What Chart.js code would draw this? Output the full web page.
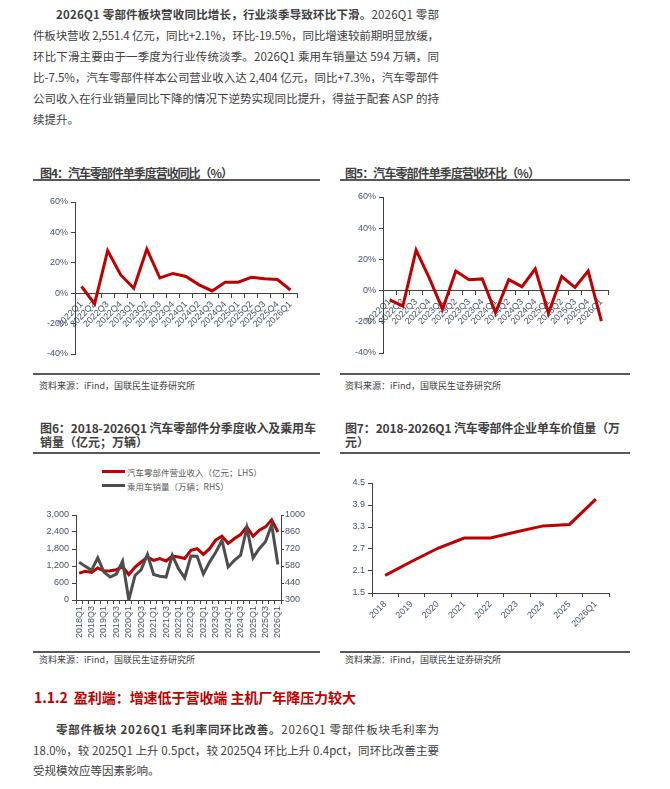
<!DOCTYPE html>
<html>
<head>
<meta charset="utf-8">
<script src="https://cdn.jsdelivr.net/npm/chart.js@4.4.1/dist/chart.umd.min.js"></script>
<style>
  html, body { margin: 0; padding: 0; background: #fff; }
  body { width: 670px; height: 789px; position: relative; overflow: hidden;
         font-family: "Noto Sans CJK SC", sans-serif; color: #404040; }
  .ln { position: absolute; white-space: nowrap; line-height: 20px; font-size: 11.5px; }
  .tt { position: absolute; white-space: nowrap; line-height: 16px; font-size: 12px; font-weight: bold; color: #404040; }
  .rule { position: absolute; height: 2px; background: #595959; }
  .src { position: absolute; white-space: nowrap; line-height: 14px; font-size: 9px; color: #404040; }
  .lg { position: absolute; white-space: nowrap; line-height: 14px; font-size: 8.5px; color: #595959; }
  .lg i { position: absolute; left: -25px; top: 5px; width: 23px; height: 3px; }
  canvas { position: absolute; }
  h3 { position: absolute; margin: 0; white-space: nowrap; line-height: 20px; font-size: 14px; color: #c00000; }
</style>
</head>
<body>

<div class="ln" style="left:56px;top:4px" data-w="383"><b>2026Q1 零部件板块营收同比增长，行业淡季导致环比下滑。</b>2026Q1 零部</div>
<div class="ln" style="left:33px;top:25px" data-w="406">件板块营收 2,551.4 亿元，同比+2.1%，环比-19.5%，同比增速较前期明显放缓，</div>
<div class="ln" style="left:33px;top:46px" data-w="406">环比下滑主要由于一季度为行业传统淡季。2026Q1 乘用车销量达 594 万辆，同</div>
<div class="ln" style="left:33px;top:67px" data-w="406">比-7.5%，汽车零部件样本公司营业收入达 2,404 亿元，同比+7.3%，汽车零部件</div>
<div class="ln" style="left:33px;top:88px" data-w="406">公司收入在行业销量同比下降的情况下逆势实现同比提升，得益于配套 ASP 的持</div>
<div class="ln" style="left:33px;top:109px">续提升。</div>

<div class="tt" style="left:40px;top:165px" data-w="193">图4：汽车零部件单季度营收同比（%）</div>
<div class="rule" style="left:33px;top:179px;width:287px"></div>
<div class="tt" style="left:345px;top:165px" data-w="195">图5：汽车零部件单季度营收环比（%）</div>
<div class="rule" style="left:340px;top:179px;width:290px"></div>

<canvas id="yoy" width="290" height="175" style="left:33px;top:190px"></canvas>
<canvas id="qoq" width="290" height="180" style="left:340px;top:185px"></canvas>

<div class="rule" style="left:33px;top:373px;width:287px"></div>
<div class="src" style="left:39px;top:379px">资料来源：iFind，国联民生证券研究所</div>
<div class="rule" style="left:340px;top:373px;width:290px"></div>
<div class="src" style="left:345px;top:379px">资料来源：iFind，国联民生证券研究所</div>

<div class="tt" style="left:40px;top:420px" data-w="276">图6：2018-2026Q1 汽车零部件分季度收入及乘用车</div>
<div class="tt" style="left:40px;top:434px">销量（亿元；万辆）</div>
<div class="rule" style="left:33px;top:452px;width:287px"></div>
<div class="tt" style="left:345px;top:420px" data-w="275">图7：2018-2026Q1 汽车零部件企业单车价值量（万</div>
<div class="tt" style="left:345px;top:434px">元）</div>
<div class="rule" style="left:340px;top:452px;width:290px"></div>

<div id="legend6"></div>
<canvas id="rev" width="284" height="140" style="left:33px;top:500px"></canvas>
<canvas id="asp" width="290" height="163" style="left:335px;top:470px"></canvas>

<div class="rule" style="left:33px;top:651px;width:287px"></div>
<div class="src" style="left:39px;top:653px">资料来源：iFind，国联民生证券研究所</div>
<div class="rule" style="left:340px;top:651px;width:290px"></div>
<div class="src" style="left:345px;top:653px">资料来源：iFind，国联民生证券研究所</div>

<h3 style="left:34px;top:687px" data-w="322">1.1.2&nbsp;&nbsp;盈利端：增速低于营收端 主机厂年降压力较大</h3>

<div class="ln" style="left:56px;top:719px" data-w="383"><b>零部件板块 2026Q1 毛利率同环比改善。</b>2026Q1 零部件板块毛利率为</div>
<div class="ln" style="left:33px;top:739.5px" data-w="406">18.0%，较 2025Q1 上升 0.5pct，较 2025Q4 环比上升 0.4pct，同环比改善主要</div>
<div class="ln" style="left:33px;top:760px">受规模效应等因素影响。</div>

<script>
//------------------------------------------------------------------------------
// data
//------------------------------------------------------------------------------
var quarters22 = ['2022Q1','2022Q2','2022Q3','2022Q4','2023Q1','2023Q2','2023Q3','2023Q4',
                  '2024Q1','2024Q2','2024Q3','2024Q4','2025Q1','2025Q2','2025Q3','2025Q4','2026Q1'];
var revYoy = [4.4, -7, 28, 12, 3.3, 29, 10, 13, 11, 5.5, 1.5, 7.2, 7.2, 10.5, 9.5, 9, 2.1];
var revQoq = [-6, -10, 26, 8, -12, 12.5, 7, 7.5, -14, 7, 2.5, 14, -14.5, 9, 2, 12.5, -19.5];

var quarters18 = ['2018Q1','2018Q2','2018Q3','2018Q4','2019Q1','2019Q2','2019Q3','2019Q4',
                  '2020Q1','2020Q2','2020Q3','2020Q4','2021Q1','2021Q2','2021Q3','2021Q4',
                  '2022Q1','2022Q2','2022Q3','2022Q4','2023Q1','2023Q2','2023Q3','2023Q4',
                  '2024Q1','2024Q2','2024Q3','2024Q4','2025Q1','2025Q2','2025Q3','2025Q4','2026Q1'];
var partsRevenue = [950, 1010, 975, 1130, 1020, 1035, 1070, 1180, 900, 1160, 1340, 1515, 1400, 1460, 1375, 1550,
                    1520, 1465, 1755, 1810, 1610, 1810, 2120, 2250, 2000, 2170, 2310, 2580, 2250, 2460, 2580, 2830, 2400];
var carSales = [612, 577, 544, 648, 530, 489, 514, 620, 302, 502, 550, 675, 510, 496, 489, 668,
                558, 482, 662, 660, 514, 612, 693, 790, 572, 627, 670, 895, 647, 723, 780, 920, 592];
var revLabel = '汽车零部件营业收入（亿元；LHS）';
var salesLabel = '乘用车销量（万辆；RHS）';

var years = ['2018','2019','2020','2021','2022','2023','2024','2025','2026Q1'];
var valuePerCar = [1.98, 2.36, 2.72, 3.0, 3.0, 3.17, 3.33, 3.37, 4.06];

//------------------------------------------------------------------------------
// styles
//------------------------------------------------------------------------------
var RED = '#c00000';
var GREY = '#4d4d4d';
var AXIS = '#404040';
var TICK = '#44546a';
var FONT = '"Liberation Sans", "Noto Sans CJK SC", sans-serif';

Chart.defaults.font.family = FONT;
Chart.defaults.font.size = 9;
Chart.defaults.animation = false;
Chart.defaults.plugins.legend.display = false;
Chart.defaults.plugins.tooltip.enabled = false;

function xAxis(rot, extra) {
  var s = {
    offset: true,
    grid: { drawOnChartArea: false, offset: true, tickLength: 4, color: AXIS },
    border: { color: AXIS },
    ticks: { autoSkip: false, minRotation: rot, maxRotation: rot, color: TICK, padding: 2 }
  };
  for (var k in extra) s[k] = extra[k];
  return s;
}

function yAxis(min, max, step, width, fmt, pos) {
  return {
    position: pos || 'left',
    min: min, max: max,
    grid: { drawOnChartArea: false, tickLength: 4, color: AXIS },
    border: { color: AXIS },
    ticks: { stepSize: step, color: TICK, padding: 3, callback: fmt },
    afterFit: function(a) { a.width = width; }
  };
}

function pct(v) { return v + '%'; }

window.onload = function() {
//------------------------------------------------------------------------------
// chart 4 : yoy
//------------------------------------------------------------------------------
  new Chart(document.getElementById('yoy'), {
    type: 'line',
    data: {
      labels: quarters22,
      datasets: [{ data: revYoy, borderColor: RED, borderWidth: 3, pointRadius: 0, tension: 0 }]
    },
    options: {
      responsive: false,
      layout: { padding: { top: 12, right: 26, bottom: 11, left: 0 } },
      scales: {
        x: xAxis(45, { position: { y: 0 }, afterFit: function(a) { a.height = 0; } }),
        y: yAxis(-40, 60, 20, 42, pct)
      }
    }
  });
//------------------------------------------------------------------------------
// chart 5 : qoq
//------------------------------------------------------------------------------
  new Chart(document.getElementById('qoq'), {
    type: 'line',
    data: {
      labels: quarters22,
      datasets: [{ data: revQoq, borderColor: RED, borderWidth: 3, pointRadius: 0, tension: 0 }]
    },
    options: {
      responsive: false,
      layout: { padding: { top: 12, right: 22, bottom: 12, left: 0 } },
      scales: {
        x: xAxis(45, { position: { y: 0 }, afterFit: function(a) { a.height = 0; } }),
        y: yAxis(-40, 60, 20, 43, pct)
      }
    }
  });
//------------------------------------------------------------------------------
// chart 6 : revenue vs sales
//------------------------------------------------------------------------------
  var rightAxis = yAxis(300, 1000, 140, 36, function(v) { return String(v); }, 'right');
  rightAxis.grid.tickLength = 3;
  rightAxis.ticks.padding = 1;
  var c6 = new Chart(document.getElementById('rev'), {
    type: 'line',
    data: {
      labels: quarters18,
      datasets: [
        { label: revLabel, data: partsRevenue, yAxisID: 'y', borderColor: RED, borderWidth: 3,
          pointRadius: 0, tension: 0, order: 1 },
        { label: salesLabel, data: carSales, yAxisID: 'y1', borderColor: GREY, borderWidth: 3,
          pointRadius: 0, tension: 0, order: 0 }
      ]
    },
    options: {
      responsive: false,
      layout: { padding: { top: 15, right: 0, bottom: 0, left: 0 } },
      scales: {
        x: xAxis(90, {
          afterFit: function(a) { a.height = 40; }
        }),
        y: yAxis(0, 3000, 600, 43, function(v) { return v.toLocaleString('en-US'); }),
        y1: rightAxis
      }
    }
  });
  c6.options.scales.x.ticks.callback = function(v, i) { return i % 2 === 0 ? this.getLabelForValue(v) : ''; };
  c6.update();

  var lg = document.getElementById('legend6');
  c6.data.datasets.forEach(function(ds, i) {
    var d = document.createElement('div');
    d.className = 'lg';
    d.style.left = '127px';
    d.style.top = (465 + i * 14) + 'px';
    d.innerHTML = '<i style="background:' + ds.borderColor + '"></i>' + ds.label;
    lg.appendChild(d);
  });
//------------------------------------------------------------------------------
// chart 7 : value per car
//------------------------------------------------------------------------------
  new Chart(document.getElementById('asp'), {
    type: 'line',
    data: {
      labels: years,
      datasets: [{ data: valuePerCar, borderColor: RED, borderWidth: 3, pointRadius: 0, tension: 0 }]
    },
    options: {
      responsive: false,
      layout: { padding: { top: 13, right: 16, bottom: 0, left: 0 } },
      scales: {
        x: xAxis(45, { afterFit: function(a) { a.height = 40; } }),
        y: yAxis(1.5, 4.5, 0.6, 37, function(v) { return v.toFixed(1); })
      }
    }
  });
//------------------------------------------------------------------------------
// stretch text lines to the column width
//------------------------------------------------------------------------------
  var fit = function() {
    document.querySelectorAll('[data-w]').forEach(function(el) {
      el.style.letterSpacing = '0px';
      var w = el.getBoundingClientRect().width;
      var n = el.textContent.length;
      var target = parseFloat(el.getAttribute('data-w'));
      if (n > 1) el.style.letterSpacing = ((target - w) / (n - 1)) + 'px';
    });
  };
  fit();
  if (document.fonts) document.fonts.ready.then(fit);
};
</script>
</body>
</html>
